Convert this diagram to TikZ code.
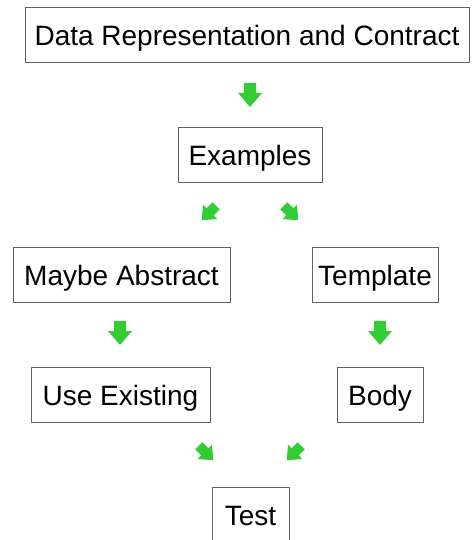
\documentclass[tikz,border=0pt]{standalone}
\usepackage{fontspec}
\setmainfont{Liberation Sans}
\definecolor{arrowgreen}{RGB}{50,205,50}
\definecolor{boxgray}{RGB}{100,100,100}
\tikzset{
  stage/.style={draw=boxgray, line width=0.9pt, minimum height=55pt, inner sep=0pt,
    text height=21pt, text depth=0pt, font=\fontsize{28}{32}\selectfont},
  blockarrow/.pic={
    \fill[arrowgreen] (-6,-12) -- (6,-12) -- (6,-2) -- (12,-2) -- (0,12)
      -- (-12,-2) -- (-6,-2) -- cycle;
  }
}
\begin{document}
\begin{tikzpicture}[x=1pt, y=-1pt]
\useasboundingbox (0,0) rectangle (471,540);
\node[stage, minimum width=444pt] (data) at (247,35) {Data Representation and Contract};
\node[stage, minimum width=144pt] (examples) at (250,155) {Examples};
\node[stage, minimum width=217pt] (maybe) at (121.5,275) {Maybe Abstract};
\node[stage, minimum width=126pt] (template) at (375,275) {Template};
\node[stage, minimum width=179pt] (existing) at (120.5,395) {Use Existing};
\node[stage, minimum width=86pt] (body) at (380,395) {Body};
\node[stage, minimum width=77pt] (test) at (250.5,515) {Test};
% straight down
\pic at (250,95) {blockarrow};
\pic at (120,333) {blockarrow};
\pic at (380,333) {blockarrow};
% slanted ones are a bit smaller
\pic[rotate=-45, scale=0.85] at (209,213) {blockarrow};
\pic[rotate=45, scale=0.85] at (291,213) {blockarrow};
\pic[rotate=45, scale=0.85] at (206,453) {blockarrow};
\pic[rotate=-45, scale=0.85] at (294,453) {blockarrow};
\end{tikzpicture}
\end{document}
